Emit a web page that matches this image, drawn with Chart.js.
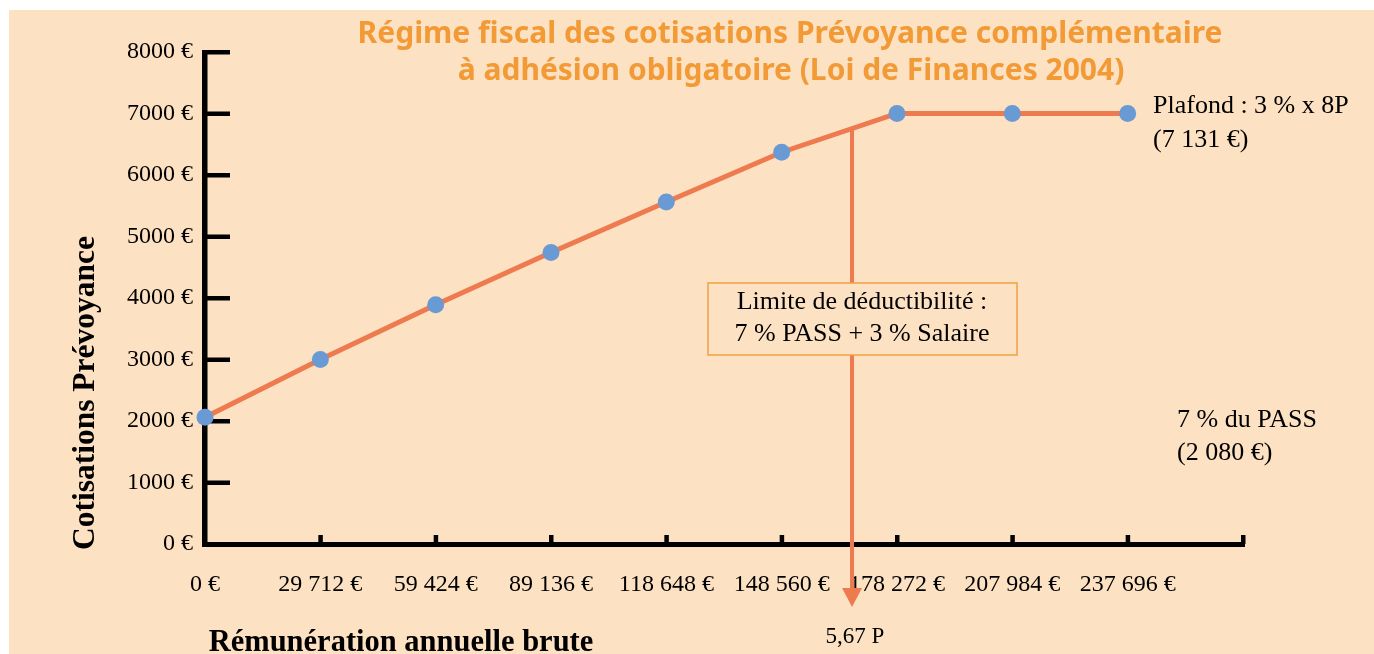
<!DOCTYPE html>
<html>
<head>
<meta charset="utf-8">
<script src="https://cdn.jsdelivr.net/npm/chart.js@4.4.1/dist/chart.umd.min.js"></script>
<style>
    html, body { margin: 0; padding: 0; background: #ffffff; }
    #wrap { position: relative; width: 1374px; height: 654px; }
</style>
</head>
<body>
<div id="wrap"><canvas id="chart" width="1374" height="654"></canvas></div>
<script>
// ==================== Data ====================
const salaryLabels = ['0 €', '29 712 €', '59 424 €', '89 136 €', '118 648 €', '148 560 €', '178 272 €', '207 984 €', '237 696 €', ''];
const cotisations = [2060, 3000, 3890, 4740, 5560, 6370, 7000, 7000, 7000];
const yMax = 8000;
const yStep = 1000;
const limitAt = 5.61;          // position of the deductibility limit, in P units
const limitLabel = '5,67 P';
const titleLines = ['Régime fiscal des cotisations Prévoyance complémentaire', 'à adhésion obligatoire (Loi de Finances 2004)'];

const PEACH = '#fde1c3';
const LINE = '#ee7a50';
const DOT = '#6a9ad4';
const ORANGE = '#f29a36';
const SERIF = '"Liberation Serif", "Times New Roman", serif';

function centerText(ctx, txt, x, y, font, color, align) {
    ctx.font = font;
    ctx.fillStyle = color || '#000';
    ctx.textAlign = align || 'center';
    ctx.textBaseline = 'middle';
    ctx.fillText(txt, x, y);
}

const decor = {
    id: 'decor',
    beforeDraw(chart) {
        const ctx = chart.ctx;
        ctx.save();
        ctx.fillStyle = '#ffffff';
        ctx.fillRect(0, 0, chart.width, chart.height);
        ctx.fillStyle = PEACH;
        ctx.fillRect(9, 10, chart.width - 9, chart.height - 10);
        ctx.restore();
    },
    beforeDatasetsDraw(chart) {
        // axes with inward ticks
        const ctx = chart.ctx;
        const xs = chart.scales.x, ys = chart.scales.y;
        const a = chart.chartArea;
        ctx.save();
        ctx.fillStyle = '#000';
        ctx.fillRect(a.left - 3, ys.getPixelForValue(yMax) - 2, 5.5, a.bottom - ys.getPixelForValue(yMax) + 5);
        ctx.fillRect(a.left - 3, a.bottom - 2, a.right - a.left + 5, 5);
        for (let v = 0; v <= yMax; v += yStep) {
            const y = ys.getPixelForValue(v);
            ctx.fillRect(a.left - 1, y - 2, 26, 4.5);
        }
        for (let i = 1; i < salaryLabels.length; i++) {
            const x = xs.getPixelForValue(i);
            ctx.fillRect(x - 2, a.bottom - 9, 4.5, 9);
        }
        ctx.restore();
    },
    afterDatasetsDraw(chart) {
        const ctx = chart.ctx;
        const xs = chart.scales.x;
        const pts = chart.getDatasetMeta(0).data;
        ctx.save();

        // arrow from the curve down past the axis
        const ax = xs.getPixelForValue(limitAt);
        const i0 = Math.floor(limitAt), f = limitAt - i0;
        const ay = pts[i0].y + (pts[i0 + 1].y - pts[i0].y) * f;
        ctx.strokeStyle = LINE;
        ctx.lineWidth = 4;
        ctx.beginPath();
        ctx.moveTo(ax, ay);
        ctx.lineTo(ax, 592);
        ctx.stroke();
        ctx.fillStyle = LINE;
        ctx.beginPath();
        ctx.moveTo(ax - 10, 588);
        ctx.lineTo(ax + 10, 588);
        ctx.lineTo(ax, 607);
        ctx.closePath();
        ctx.fill();

        // annotation box
        ctx.fillStyle = PEACH;
        ctx.fillRect(708, 283, 309, 72);
        ctx.strokeStyle = '#f0a040';
        ctx.lineWidth = 1.5;
        ctx.strokeRect(708, 283, 309, 72);
        centerText(ctx, 'Limite de déductibilité :', 862, 302, '26px ' + SERIF);
        centerText(ctx, '7 % PASS + 3 % Salaire', 862, 334, '26px ' + SERIF);

        centerText(ctx, limitLabel, 855, 637, '23px ' + SERIF);
        centerText(ctx, 'Plafond : 3 % x 8P', 1153, 106, '26px ' + SERIF, '#000', 'left');
        centerText(ctx, '(7 131 €)', 1153, 140, '26px ' + SERIF, '#000', 'left');
        centerText(ctx, '7 % du PASS', 1177, 420, '26px ' + SERIF, '#000', 'left');
        centerText(ctx, '(2 080 €)', 1177, 453, '26px ' + SERIF, '#000', 'left');

        // titles
        centerText(ctx, titleLines[0], 790, 34, 'bold 30px "Noto Sans", sans-serif', ORANGE);
        centerText(ctx, titleLines[1], 791, 71, 'bold 30px "Noto Sans", sans-serif', ORANGE);

        centerText(ctx, 'Rémunération annuelle brute', 401, 643, 'bold 30.5px ' + SERIF);
        ctx.translate(86, 393);
        ctx.rotate(-Math.PI / 2);
        centerText(ctx, 'Cotisations Prévoyance', 0, 0, 'bold 31.5px ' + SERIF);
        ctx.restore();
    }
};

new Chart(document.getElementById('chart'), {
    type: 'line',
    data: {
        labels: salaryLabels,
        datasets: [{
            data: cotisations,
            borderColor: LINE,
            borderWidth: 5,
            backgroundColor: DOT,
            pointBackgroundColor: DOT,
            pointBorderWidth: 0,
            pointRadius: 8.5,
            tension: 0,
            clip: false
        }]
    },
    options: {
        responsive: false,
        animation: false,
        events: [],
        layout: { padding: { left: 0, top: 52, right: 131, bottom: 0 } },
        plugins: { legend: { display: false }, tooltip: { enabled: false }, title: { display: false } },
        scales: {
            x: {
                type: 'category',
                offset: false,
                grid: { display: false },
                border: { display: false },
                ticks: { color: '#000', font: { family: SERIF, size: 24 }, padding: 18, maxRotation: 0, autoSkip: false },
                afterFit(scale) { scale.height = 110; }
            },
            y: {
                min: 0,
                max: yMax,
                grid: { display: false },
                border: { display: false },
                ticks: { stepSize: yStep, color: '#000', font: { family: SERIF, size: 24 }, padding: 4, callback: v => v + ' €' },
                afterFit(scale) { scale.width = 205; }
            }
        }
    },
    plugins: [decor]
});
</script>
</body>
</html>
